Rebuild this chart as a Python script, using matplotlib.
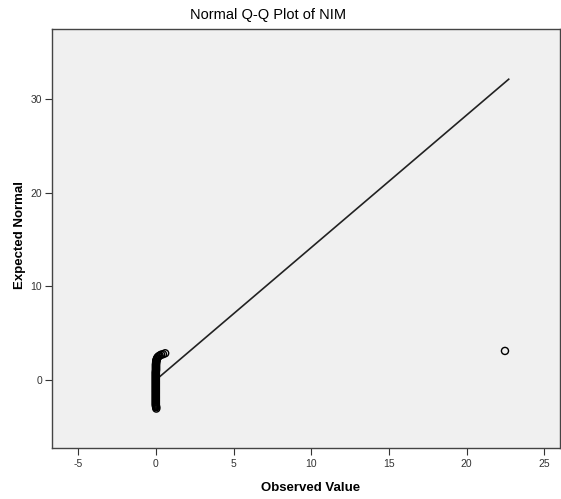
import numpy as np
import matplotlib
matplotlib.use("Agg")
import matplotlib.pyplot as plt

plt.rcParams["font.family"] = ["Liberation Sans", "DejaVu Sans"]
plt.rcParams["axes.unicode_minus"] = False

observed = [0.03, 0.02, 0.01, 0.0, 0.0, 0.0, 0.0, 0.0, 0.0, 0.0,
            0.0, 0.0, 0.0, 0.0, 0.0, 0.0, 0.0, 0.0, 0.0, 0.0,
            0.0, 0.0, 0.0, 0.0, 0.0, 0.0, 0.0, 0.0, 0.0, 0.0,
            0.0, 0.0, 0.0, 0.0, 0.0, 0.0, 0.0, 0.0, 0.0, 0.0,
            0.01, 0.01, 0.01, 0.01, 0.01, 0.01, 0.01, 0.01, 0.02, 0.02,
            0.03, 0.04, 0.06, 0.08, 0.11, 0.16, 0.24, 0.34, 0.46, 0.6,
            22.46]
expected = [-3.05, -2.9, -2.8, -2.7, -2.6, -2.5, -2.4, -2.3, -2.2, -2.1,
            -2.0, -1.9, -1.8, -1.7, -1.6, -1.5, -1.4, -1.3, -1.2, -1.1,
            -1.0, -0.9, -0.8, -0.7, -0.6, -0.5, -0.4, -0.3, -0.2, -0.1,
            0.0, 0.1, 0.2, 0.3, 0.4, 0.5, 0.6, 0.7, 0.8, 0.9,
            1.0, 1.1, 1.2, 1.3, 1.4, 1.5, 1.6, 1.7, 1.8, 1.9,
            2.0, 2.1, 2.2, 2.3, 2.4, 2.5, 2.6, 2.7, 2.75, 2.85,
            3.1]

# reference line endpoints
line_x = [0.0, 22.7]
line_y = [0.0, 32.1]

xticks = [-5, 0, 5, 10, 15, 20, 25]
yticks = [0, 10, 20, 30]

fig = plt.figure(figsize=(5.61, 4.99), dpi=100)
ax = fig.add_axes([52/561, 51/499, 508/561, 419/499])
ax.set_facecolor("#f0f0f0")

ax.plot(line_x, line_y, color="#222222", lw=1.2, zorder=2)
ax.scatter(observed, expected, s=26, facecolors="none", edgecolors="black",
           linewidths=1.0, zorder=3)

ax.set_xlim(-6.68, 26.0)
ax.set_ylim(-7.26, 37.46)
ax.set_xticks(xticks)
ax.set_yticks(yticks)
ax.tick_params(labelsize=7.5, labelcolor="#333333", length=5, color="#333333", pad=2)
ax.tick_params(axis="x", pad=3)
for s in ax.spines.values():
    s.set_color("#444444")
    s.set_linewidth(1.0)

fig.text(311/561, 1 - 488/499, "Observed Value", fontsize=9.5, fontweight="bold",
         ha="center", va="center")
fig.text(20/561, 1 - 235/499, "Expected Normal", fontsize=9.5, fontweight="bold",
         ha="center", va="center", rotation=90)
fig.text(268/561, 1 - 15/499, "Normal Q-Q Plot of NIM", fontsize=10.5,
         ha="center", va="center")

plt.savefig("out.png", dpi=100)
